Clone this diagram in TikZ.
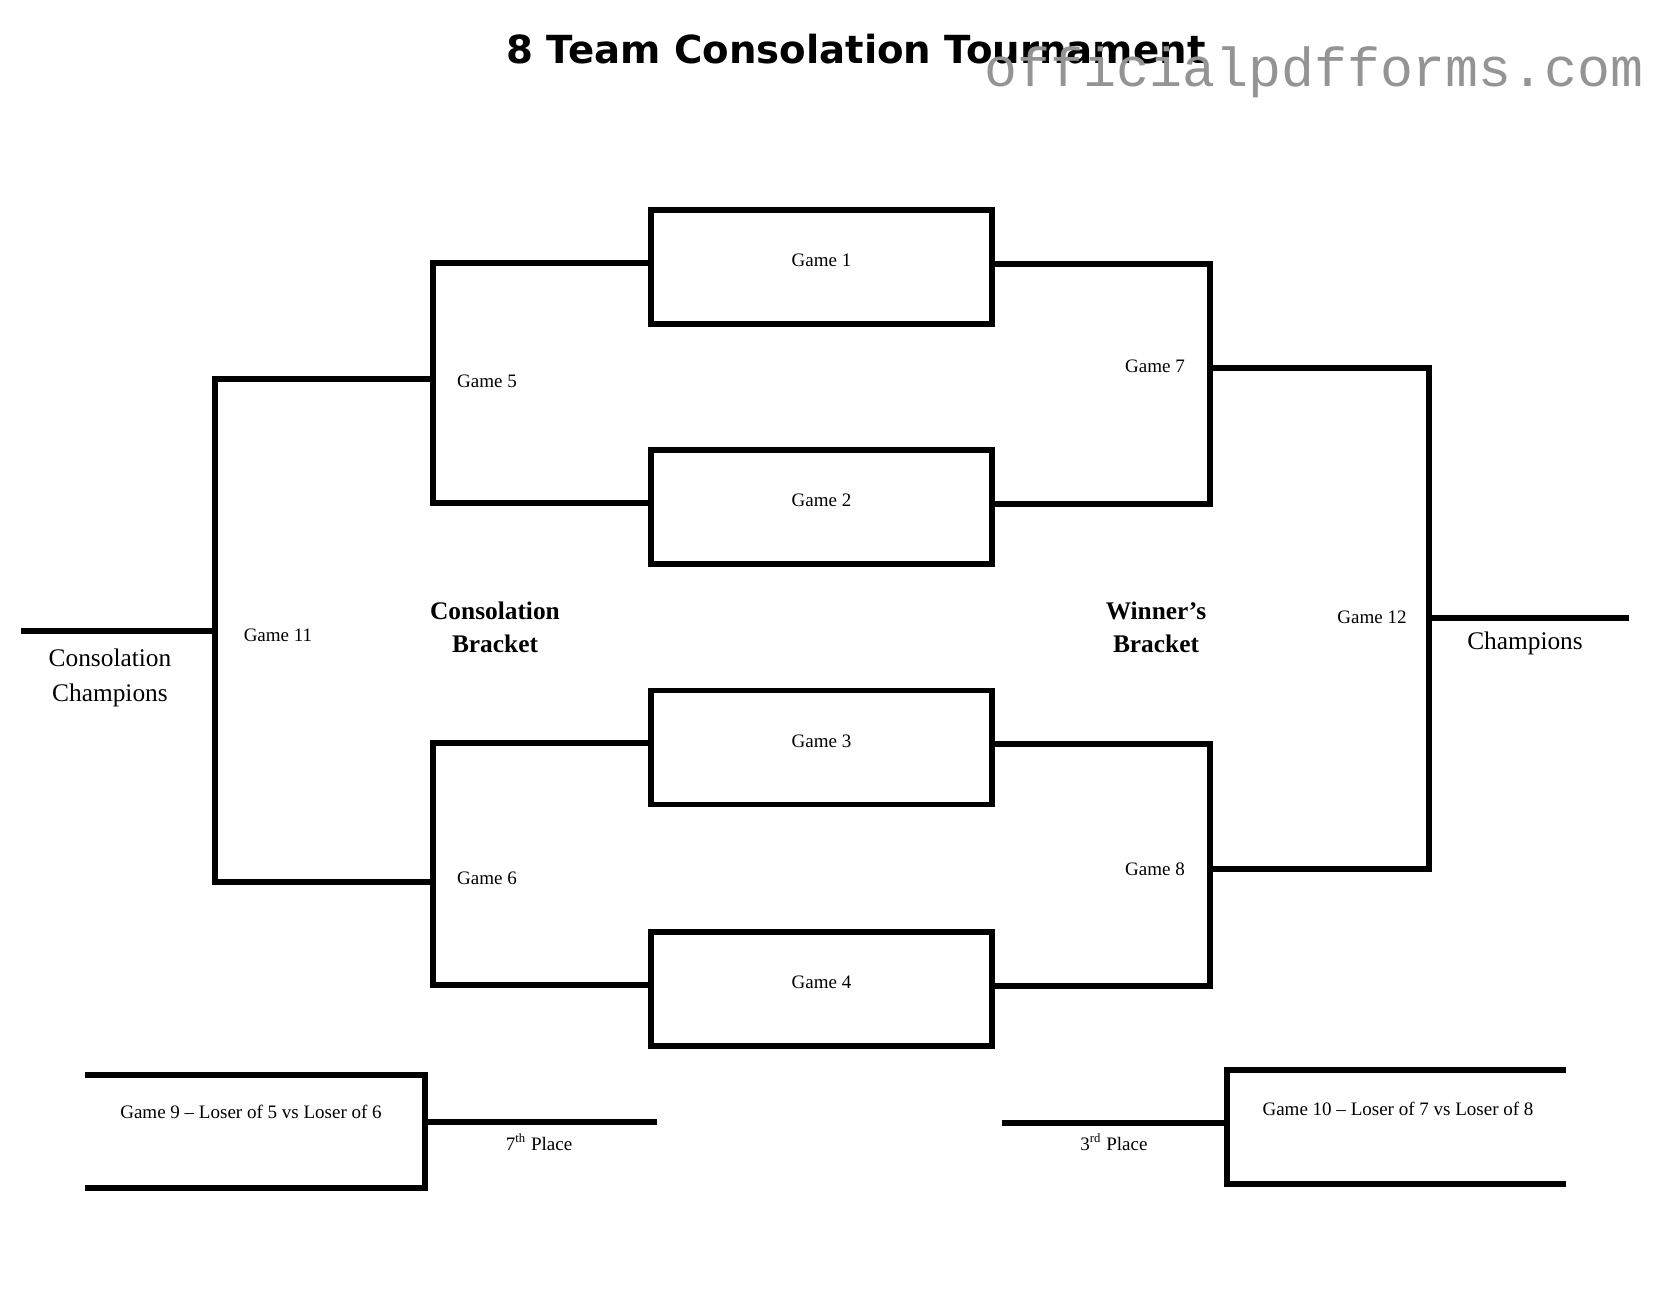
\documentclass[tikz,border=0pt]{standalone}
\usepackage{fontspec}
\setmainfont{Liberation Serif}
\newfontfamily\titlefont{DejaVu Sans}
\newfontfamily\markfont{Liberation Mono}

\begin{document}
\begin{tikzpicture}[x=0.016631cm, y=-0.016631cm,
  bracket/.style={line width=2.7pt, line join=miter},
  gamebox/.style={draw=black, line width=2.7pt, minimum width=5.67cm, minimum height=1.9cm, inner sep=0pt},
  gametext/.style={font=\fontsize{9}{11}\selectfont, inner sep=0pt},
  bigtext/.style={font=\fontsize{12}{16.5}\selectfont, align=center, inner sep=0pt}]
\useasboundingbox (0,0) rectangle (1680,1298);

\node[anchor=base, inner sep=0pt, font=\titlefont\bfseries\fontsize{18.3}{22}\selectfont] (title) at (856,63) {8 Team Consolation Tournament};
\node[anchor=base west, inner sep=0pt, text=black!42, font=\markfont\fontsize{26}{30}\selectfont] (mark) at (984,86) {officialpdfforms.com};

\node[gamebox, label={[gametext, yshift=0.11cm]center:Game 1}] (g1) at (821.5,267) {};
\node[gamebox, label={[gametext, yshift=0.11cm]center:Game 2}] (g2) at (821.5,507) {};
\node[gamebox, label={[gametext, yshift=0.11cm]center:Game 3}] (g3) at (821.5,747.5) {};
\node[gamebox, label={[gametext, yshift=0.11cm]center:Game 4}] (g4) at (821.5,989) {};

% consolation side
\coordinate (c5) at (433,379);
\coordinate (c6) at (433,882);
\coordinate (c11) at (215,631);
\coordinate (cc) at (21,631);
\draw[bracket] ([yshift=2pt]g1.west) -| (c5) |- ([yshift=2pt]g2.west);
\draw[bracket] ([yshift=2pt]g3.west) -| (c6) |- ([yshift=2pt]g4.west);
\draw[bracket] (c5) -| (c11) |- (c6);
\draw[bracket] (c11) -- (cc);

% winner side
\coordinate (c7) at (1210,368);
\coordinate (c8) at (1210,869);
\coordinate (c12) at (1429,618);
\coordinate (ch) at (1629,618);
\draw[bracket] ([yshift=1.5pt]g1.east) -| (c7) |- ([yshift=1.5pt]g2.east);
\draw[bracket] ([yshift=1.5pt]g3.east) -| (c8) |- ([yshift=1.5pt]g4.east);
\draw[bracket] (c7) -| (c12) |- (c8);
\draw[bracket] (c12) -- (ch);

% places
\coordinate (n9a) at (85,1075);
\coordinate (n9b) at (85,1188);
\coordinate (c9) at (425,1122);
\coordinate (p7) at (657,1122);
\draw[bracket] (n9a) -| (c9) |- (n9b);
\draw[bracket] (c9) -- (p7);
\coordinate (n10a) at (1566,1070);
\coordinate (n10b) at (1566,1184);
\coordinate (c10) at (1227,1123);
\coordinate (p3) at (1002,1123);
\draw[bracket] (n10a) -| (c10) |- (n10b);
\draw[bracket] (c10) -- (p3);

\node[gametext] (t5) at (487,381) {Game 5};
\node[gametext] (t6) at (487,878) {Game 6};
\node[gametext] (t7) at (1155,366) {Game 7};
\node[gametext] (t8) at (1155,869) {Game 8};
\node[gametext] (t11) at (278,635) {Game 11};
\node[gametext] (t12) at (1372,617) {Game 12};
\node[gametext] (t9) at (251,1112) {Game 9 – Loser of 5 vs Loser of 6};
\node[gametext] (t10) at (1398,1109) {Game 10 – Loser of 7 vs Loser of 8};
\node[gametext] (seventh) at (539,1142) {7\textsuperscript{th} Place};
\node[gametext] (third) at (1114,1142) {3\textsuperscript{rd} Place};

\node[bigtext] (conchamp) at (110,678) {Consolation\\Champions};
\node[bigtext] (champ) at (1525,643) {Champions};
\node[bigtext, font=\fontsize{12}{15.6}\selectfont\bfseries] (conbr) at (495,627) {Consolation\\Bracket};
\node[bigtext, font=\fontsize{12}{15.6}\selectfont\bfseries] (winbr) at (1156,627) {Winner’s\\Bracket};
\end{tikzpicture}
\end{document}
